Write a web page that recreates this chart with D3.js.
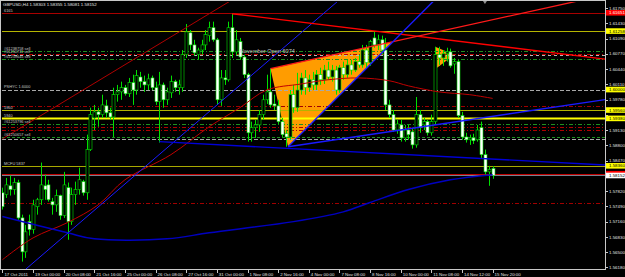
<!DOCTYPE html>
<html>
<head>
<meta charset="utf-8">
<script src="https://cdn.jsdelivr.net/npm/d3@7"></script>
<style>
body { margin: 0; background: #000; }
svg { display: block; }
text { font-family: "Liberation Sans", Arial, sans-serif; }
</style>
</head>
<body>
<div id="container"></div>
<script>

// GBPUSD H4 bars, 17 Oct 2011 16:00 .. 15 Nov 2011 20:00
var barOpen = [1.5778,1.5774,1.5793,1.5785,1.5800,1.5724,1.5651,1.5716,1.5699,1.5748,
	1.5763,1.5793,1.5795,1.5759,1.5752,1.5772,1.5729,1.5789,1.5716,1.5774,
	1.5785,1.5802,1.5778,1.5871,1.5939,1.5952,1.5946,1.5965,1.5950,1.5941,
	1.5989,1.5995,1.6004,1.5991,1.6015,1.5999,1.6027,1.6017,1.6010,1.6025,
	1.6004,1.5974,1.6010,1.5978,1.5993,1.6017,1.6004,1.6004,1.6075,1.6122,
	1.6096,1.6075,1.6085,1.6096,1.6116,1.6133,1.6107,1.5978,1.6025,1.6021,
	1.6133,1.6081,1.6103,1.6070,1.6032,1.5907,1.5918,1.5924,1.5946,1.5978,
	1.5995,1.5969,1.5965,1.5931,1.5905,1.5898,1.5989,1.5961,1.5999,1.6025,
	1.6004,1.6021,1.6010,1.6032,1.6021,1.6042,1.6027,1.6042,1.5999,1.6047,
	1.6032,1.6053,1.6042,1.6060,1.6053,1.6085,1.6058,1.6111,1.6096,1.6107,
	1.6085,1.5967,1.5946,1.5913,1.5924,1.5896,1.5913,1.5909,1.5881,1.5946,
	1.5924,1.5931,1.5907,1.5931,1.6075,1.6068,1.6077,1.6081,1.6055,1.6060,
	1.5944,1.5898,1.5892,1.5896,1.5892,1.5918,1.5860,1.5823,1.58303];
var barHigh = [1.5789,1.5810,1.5815,1.5810,1.5806,1.5731,1.5709,1.5731,1.5763,1.5767,
	1.5843,1.5817,1.5806,1.5767,1.5785,1.5774,1.5823,1.5800,1.5789,1.5802,
	1.5832,1.5806,1.5903,1.5961,1.5967,1.5961,1.5989,1.5978,1.5961,1.6004,
	1.6010,1.6017,1.6010,1.6025,1.6032,1.6042,1.6038,1.6030,1.6034,1.6030,
	1.6017,1.6038,1.6015,1.6004,1.6030,1.6021,1.6021,1.6085,1.6141,1.6128,
	1.6107,1.6090,1.6107,1.6128,1.6146,1.6146,1.6111,1.6042,1.6042,1.6146,
	1.6163,1.6128,1.6111,1.6075,1.6036,1.5931,1.5935,1.5956,1.5989,1.6032,
	1.6045,1.5989,1.5978,1.5939,1.5913,1.5999,1.6010,1.6036,1.6036,1.6042,
	1.6032,1.6038,1.6042,1.6047,1.6053,1.6060,1.6053,1.6051,1.6053,1.6060,
	1.6064,1.6064,1.6068,1.6075,1.6096,1.6096,1.6107,1.6124,1.6118,1.6116,
	1.6111,1.5978,1.5956,1.5935,1.5935,1.5924,1.5924,1.5918,1.5984,1.5956,
	1.5939,1.5935,1.5946,1.6092,1.6092,1.6085,1.6090,1.6088,1.6068,1.6064,
	1.5952,1.5907,1.5903,1.5905,1.5924,1.5931,1.5871,1.5836,1.58355];
var barLow = [1.5742,1.5767,1.5772,1.5774,1.5720,1.5630,1.5638,1.5686,1.5690,1.5731,
	1.5752,1.5763,1.5759,1.5731,1.5737,1.5720,1.5724,1.5677,1.5709,1.5752,
	1.5774,1.5772,1.5763,1.5868,1.5913,1.5920,1.5939,1.5939,1.5935,1.5898,
	1.5974,1.5978,1.5987,1.5984,1.5967,1.5989,1.6004,1.5995,1.5999,1.5999,
	1.5967,1.5886,1.5961,1.5967,1.5982,1.5995,1.5989,1.5995,1.6068,1.6085,
	1.6073,1.6064,1.6075,1.6085,1.6103,1.6103,1.5967,1.5965,1.6010,1.6017,
	1.6068,1.6073,1.6064,1.6025,1.5888,1.5888,1.5896,1.5909,1.5935,1.5969,
	1.5961,1.5956,1.5926,1.5898,1.5877,1.5892,1.5950,1.5952,1.5989,1.5989,
	1.5995,1.5999,1.5999,1.6010,1.6012,1.6021,1.6017,1.5989,1.5993,1.6021,
	1.6025,1.6032,1.6038,1.6047,1.6047,1.6047,1.6051,1.6090,1.6085,1.6075,
	1.5956,1.5939,1.5909,1.5905,1.5888,1.5888,1.5892,1.5873,1.5875,1.5907,
	1.5913,1.5901,1.5901,1.5924,1.6053,1.6051,1.6060,1.6047,1.6034,1.5939,
	1.5892,1.5886,1.5881,1.5883,1.5888,1.5853,1.5817,1.5793,1.58081];
var barClose = [1.5748,1.5795,1.5785,1.5800,1.5724,1.5651,1.5694,1.5699,1.5752,1.5763,
	1.5795,1.5785,1.5763,1.5752,1.5772,1.5729,1.5795,1.5716,1.5774,1.5785,
	1.5806,1.5778,1.5871,1.5946,1.5952,1.5946,1.5967,1.5950,1.5941,1.5989,
	1.5995,1.6004,1.5991,1.6015,1.5999,1.6030,1.6017,1.6010,1.6023,1.6004,
	1.5974,1.6010,1.5978,1.5995,1.6017,1.6004,1.6010,1.6075,1.6124,1.6096,
	1.6079,1.6085,1.6096,1.6118,1.6133,1.6107,1.5978,1.6025,1.6021,1.6133,
	1.6081,1.6107,1.6070,1.6032,1.5907,1.5918,1.5924,1.5946,1.5978,1.5995,
	1.5967,1.5965,1.5931,1.5903,1.5898,1.5989,1.5961,1.5999,1.6025,1.6004,
	1.6021,1.6010,1.6032,1.6021,1.6042,1.6027,1.6042,1.5999,1.6047,1.6032,
	1.6053,1.6042,1.6060,1.6053,1.6085,1.6058,1.6103,1.6096,1.6107,1.6085,
	1.5967,1.5946,1.5913,1.5926,1.5896,1.5913,1.5903,1.5881,1.5946,1.5918,
	1.5931,1.5907,1.5931,1.6075,1.6068,1.6077,1.6081,1.6051,1.6060,1.5944,
	1.5898,1.5892,1.5896,1.5890,1.5913,1.5860,1.5823,1.5828,1.58152];

var dateBars = [0, 8, 16, 24, 32, 40, 48, 56, 64, 72, 80, 88, 96, 104, 112, 120, 128];
var dateLabels = ["17 Oct 2011", "19 Oct 00:00", "20 Oct 08:00", "21 Oct 16:00", "25 Oct 00:00",
	"26 Oct 08:00", "27 Oct 16:00", "31 Oct 00:00", "1 Nov 08:00", "2 Nov 16:00", "4 Nov 00:00",
	"7 Nov 08:00", "8 Nov 16:00", "10 Nov 00:00", "11 Nov 08:00", "14 Nov 12:00", "15 Nov 20:00"];

var priceTicks = [1.61750, 1.61430, 1.61090, 1.60770, 1.60440, 1.60110, 1.59780, 1.59450, 1.59130,
	1.58800, 1.58470, 1.58140, 1.57820, 1.57490, 1.57160, 1.56830, 1.56500, 1.56180];

// horizontal lines and their object names
var levelPrices = [1.61651, 1.61258, 1.60820, 1.60755, 1.60735, 1.60660, 1.60000, 1.59640, 1.59560, 1.59380,
	1.59260, 1.59195, 1.59141, 1.58980, 1.58937, 1.58360, 1.58190, 1.58152, 1.57555];
var levelLabels = ["6165", "", "#61238758 sell", "#61250711 sell", "", "#61259645 sell", "PSHYC 1.6000", "", "5960", "5940",
	"#61253796 sell", "", "", "#61250657 sell", "", "MCFU 5837", "", "", ""];

// price boxes on the right scale (the 1.58190 box sits under the bid box)
var markerPrices = [1.61651, 1.61258, 1.60000, 1.59560, 1.59380, 1.58360, 1.58190, 1.58152];
var markerShowText = [true, true, true, true, true, true, false, true];

// moving averages (knots)
var redMaBars = [0, 8, 17, 25, 32, 44, 54, 62, 69, 78, 85, 93, 101, 106, 114, 122, 128];
var redMaValues = [1.5634, 1.5681, 1.5714, 1.5752, 1.5806, 1.5860, 1.5920, 1.5961, 1.5999, 1.6012,
	1.6021, 1.6025, 1.6019, 1.6008, 1.5995, 1.5989, 1.5981];
var blueMaBars = [0, 17, 24, 43, 54, 76, 89, 96, 106, 117, 128];
var blueMaValues = [1.5727, 1.5692, 1.5679, 1.5679, 1.5692, 1.5716, 1.5737, 1.5757, 1.5785, 1.5806, 1.5817];

// trend lines (drawn as rays to the right)
var trendStartBar = [0, 6, 60, 70, 74.6, 74.6, 41];
var trendStartPrice = [1.5894, 1.5613, 1.6163, 1.6045, 1.5877, 1.5877, 1.5888];
var trendEndBar = [60, 88, 157, 102, 102, 157, 157];
var trendEndPrice = [1.6193, 1.6193, 1.6066, 1.6103, 1.6103, 1.5978, 1.5838];

// triangles
var bigTriangleBars = [70, 102, 74.6];
var bigTrianglePrices = [1.6045, 1.6103, 1.5877];
var smallTriangleBars = [113, 118, 113.5];
var smallTrianglePrices = [1.6092, 1.6075, 1.6047];

var noteBar = 62, notePrice = 1.6079, noteText = "November Open 6074";
var headerText = "GBPUSD,H4  1.58303 1.58355 1.58081 1.58152";

// ---- styles ----
var levelStyles = [
	{c: '#a80000', d: null, w: 1}, {c: '#b4b400', d: null, w: 1},
	{c: '#1f8f1f', d: '4,2,1,2', w: 1}, {c: '#c00000', d: '4,2,1,2', w: 1},
	{c: '#b8b8b8', d: '3,3', w: 1}, {c: '#1f8f1f', d: '4,2,1,2', w: 1},
	{c: '#a8a8a8', d: '4,2', w: 1}, {c: '#a00000', d: '4,2,1,2', w: 1.2},
	{c: '#b4b400', d: null, w: 1}, {c: '#ffff00', d: null, w: 2},
	{c: '#1f8f1f', d: '4,2,1,2', w: 1}, {c: '#b00000', d: '4,2,1,2', w: 1},
	{c: '#b00000', d: '4,2,1,2', w: 1}, {c: '#1f8f1f', d: '3,2', w: 1},
	{c: '#a8a8a8', d: '4,2', w: 1}, {c: '#a8a800', d: null, w: 1},
	{c: '#c00000', d: null, w: 1}, {c: '#7a8290', d: null, w: 1},
	{c: '#a00000', d: '4,2,1,2', w: 1}
];
var markerFill = ['#ff0000', '#ffff00', '#ffff00', '#ffff00', '#ffff00', '#ffff00', '#ff0000', '#ffffff'];
var markerText = ['#ffffff', '#000', '#000', '#000', '#000', '#000', '#ffffff', '#000'];
var trendStyles = [
	{c: '#b00000', w: 1}, {c: '#1a1aff', w: 1}, {c: '#ff0000', w: 1.3}, {c: '#ff1a1a', w: 1.3},
	{c: '#1a1aff', w: 1.4}, {c: '#1a1aff', w: 1.4}, {c: '#0000d8', w: 1.4}
];

var plot = {left: 2, right: 605, top: 2, bottom: 269};
var fontSize = 4.4;

var x = d3.scaleLinear().domain([0, 128]).range([2.4, 492.6]);
var y = d3.scaleLinear().domain([1.56141, 1.61883]).range([269, 2]);

var svg = d3.select('div#container')
	.append('svg')
	.attr('width', 625)
	.attr('height', 277)
	.style('background', '#000');

svg.append('defs').append('clipPath')
	.attr('id', 'plotClip')
	.append('rect')
	.attr('x', plot.left)
	.attr('y', plot.top)
	.attr('width', plot.right - plot.left)
	.attr('height', plot.bottom - plot.top);

var chart = svg.append('g').attr('clip-path', 'url(#plotClip)');

function points(bars, prices) {
	return bars.map((b, i) => x(b) + ',' + y(prices[i])).join(' ');
}

// triangles sit behind the bars
chart.append('polygon')
	.attr('points', points(bigTriangleBars, bigTrianglePrices))
	.attr('fill', '#ff9c00');
chart.append('polygon')
	.attr('points', points(smallTriangleBars, smallTrianglePrices))
	.attr('fill', '#ff9c00');

// horizontal lines
chart.append('g').selectAll('line')
	.data(levelPrices)
	.join('line')
	.attr('x1', plot.left)
	.attr('x2', plot.right)
	.attr('y1', d => Math.round(y(d)) + 0.5)
	.attr('y2', d => Math.round(y(d)) + 0.5)
	.attr('stroke', (d, i) => levelStyles[i].c)
	.attr('stroke-width', (d, i) => levelStyles[i].w)
	.attr('stroke-dasharray', (d, i) => levelStyles[i].d);

// candles
var bars = d3.range(barOpen.length).map(i => ({i: i, o: barOpen[i], h: barHigh[i], l: barLow[i], c: barClose[i]}));

var candles = chart.append('g').selectAll('g')
	.data(bars)
	.join('g');

candles.append('line')
	.attr('x1', d => Math.round(x(d.i)) + 0.5)
	.attr('x2', d => Math.round(x(d.i)) + 0.5)
	.attr('y1', d => y(d.h))
	.attr('y2', d => y(d.l))
	.attr('stroke', '#00e000')
	.attr('stroke-width', 1);

candles.append('rect')
	.attr('x', d => Math.round(x(d.i)) - 1)
	.attr('width', 3)
	.attr('y', d => y(Math.max(d.o, d.c)))
	.attr('height', d => Math.max(1, Math.abs(y(d.o) - y(d.c))))
	.attr('fill', d => d.c > d.o ? '#000' : '#ffffff')
	.attr('stroke', '#00e000')
	.attr('stroke-width', 0.6);

// moving averages
var maLine = d3.line()
	.x(d => x(d[0]))
	.y(d => y(d[1]))
	.curve(d3.curveCatmullRom);

chart.append('path')
	.datum(d3.zip(redMaBars, redMaValues))
	.attr('d', maLine)
	.attr('fill', 'none')
	.attr('stroke', '#c00000')
	.attr('stroke-width', 1);

chart.append('path')
	.datum(d3.zip(blueMaBars, blueMaValues))
	.attr('d', maLine)
	.attr('fill', 'none')
	.attr('stroke', '#0000c0')
	.attr('stroke-width', 1.5);

// trend lines, extended to the right edge
var rayEnd = 175;
chart.append('g').selectAll('line')
	.data(trendStartBar)
	.join('line')
	.attr('x1', (d, i) => x(d))
	.attr('y1', (d, i) => y(trendStartPrice[i]))
	.attr('x2', x(rayEnd))
	.attr('y2', (d, i) => {
		var slope = (trendEndPrice[i] - trendStartPrice[i]) / (trendEndBar[i] - d);
		return y(trendStartPrice[i] + slope * (rayEnd - d));
	})
	.attr('stroke', (d, i) => trendStyles[i].c)
	.attr('stroke-width', (d, i) => trendStyles[i].w);

// object names on the left
svg.append('g').selectAll('text')
	.data(levelPrices.filter((d, i) => levelLabels[i] !== ''))
	.join('text')
	.attr('x', 4)
	.attr('y', d => y(d) - 1.1)
	.text(d => levelLabels[levelPrices.indexOf(d)])
	.attr('fill', '#c8c8c8')
	.attr('font-size', '3.9px');

svg.append('text')
	.attr('x', x(noteBar))
	.attr('y', y(notePrice))
	.text(noteText)
	.attr('fill', '#c8c8c8')
	.attr('font-size', '5.6px');

svg.append('text')
	.attr('x', 3)
	.attr('y', 6)
	.text(headerText)
	.attr('fill', '#e0e0e0')
	.attr('font-size', fontSize + 'px');

// shift marker
svg.append('path')
	.attr('d', 'M' + (x(126) - 2) + ',1 h4 l-2,3 z')
	.attr('fill', '#909090');

// frame
svg.append('rect')
	.attr('x', 0.5)
	.attr('y', 0.5)
	.attr('width', plot.right)
	.attr('height', plot.bottom)
	.attr('fill', 'none')
	.attr('stroke', '#c8c8c8')
	.attr('stroke-width', 1);

// price scale
var priceAxis = svg.append('g');
priceAxis.selectAll('line')
	.data(priceTicks)
	.join('line')
	.attr('x1', plot.right)
	.attr('x2', plot.right + 3)
	.attr('y1', d => Math.round(y(d)) + 0.5)
	.attr('y2', d => Math.round(y(d)) + 0.5)
	.attr('stroke', '#c8c8c8');
priceAxis.selectAll('text')
	.data(priceTicks.filter(d => markerPrices.every(m => Math.abs(y(m) - y(d)) > 4)))
	.join('text')
	.attr('x', plot.right + 4)
	.attr('y', d => y(d) + 1.6)
	.text(d => d.toFixed(5))
	.attr('fill', '#e0e0e0')
	.attr('font-size', fontSize + 'px');

var markers = svg.append('g').selectAll('g')
	.data(markerPrices)
	.join('g');
markers.append('rect')
	.attr('x', plot.right + 1)
	.attr('y', d => y(d) - 2.8)
	.attr('width', 19)
	.attr('height', 5.6)
	.attr('fill', (d, i) => markerFill[i]);
markers.filter((d, i) => markerShowText[i])
	.append('text')
	.attr('x', plot.right + 4)
	.attr('y', d => y(d) + 1.6)
	.text(d => d.toFixed(5))
	.attr('fill', d => markerText[markerPrices.indexOf(d)])
	.attr('font-size', fontSize + 'px');

// time scale
var timeAxis = svg.append('g');
timeAxis.selectAll('line')
	.data(dateBars)
	.join('line')
	.attr('x1', d => Math.round(x(d)) + 0.5)
	.attr('x2', d => Math.round(x(d)) + 0.5)
	.attr('y1', plot.bottom)
	.attr('y2', plot.bottom + 4)
	.attr('stroke', '#c8c8c8');
timeAxis.selectAll('text')
	.data(dateBars)
	.join('text')
	.attr('x', d => x(d) + 2)
	.attr('y', 275.5)
	.text((d, i) => dateLabels[i])
	.attr('fill', '#e0e0e0')
	.attr('font-size', fontSize + 'px');

</script>
</body>
</html>
